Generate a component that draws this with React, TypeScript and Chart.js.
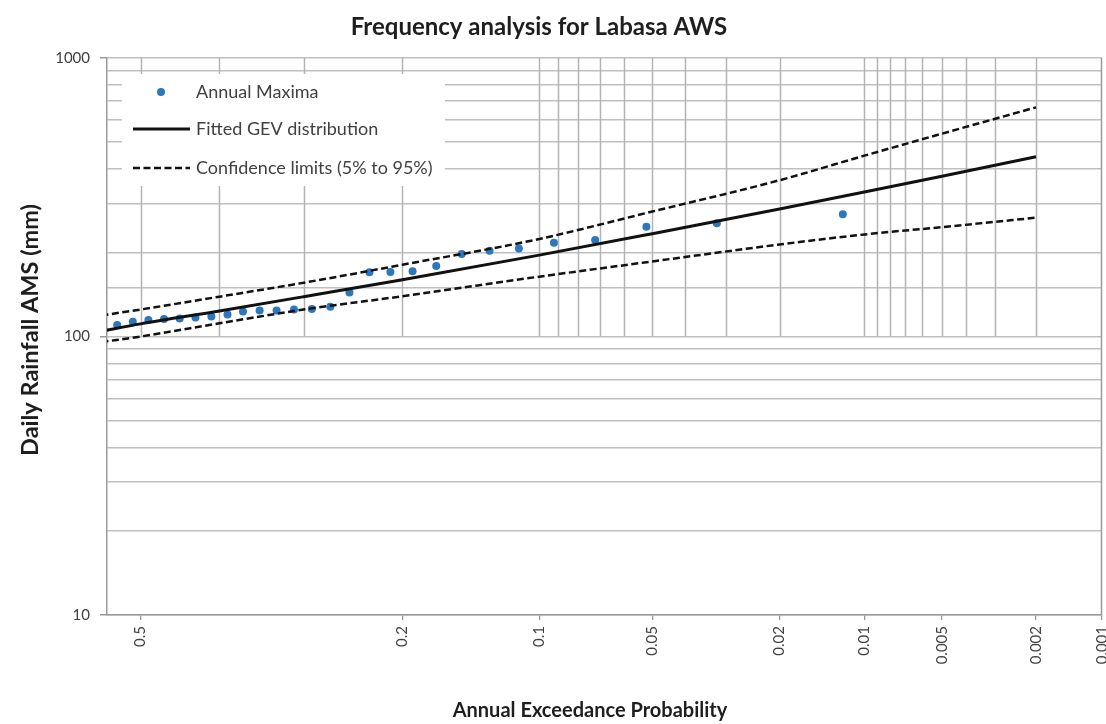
import React, { useEffect, useRef } from "react";
import { Chart, registerables } from "chart.js";

Chart.register(...registerables);

// ---------- data ----------
const TITLE = "Frequency analysis for Labasa AWS";
const X_TITLE = "Annual Exceedance Probability";
const Y_TITLE = "Daily Rainfall AMS (mm)";

// Annual maxima: plotting-position AEP and daily rainfall (mm)
const MAXIMA_AEP = [0.012, 0.032, 0.052, 0.072, 0.092, 0.112, 0.131, 0.151, 0.171, 0.191, 0.211, 0.231, 0.251, 0.271, 0.291, 0.311, 0.331, 0.351, 0.371, 0.390, 0.410, 0.430, 0.450, 0.470, 0.490, 0.510, 0.530];
const MAXIMA_MM = [275, 255, 248, 222, 217, 207, 203, 198, 179, 171.5, 170.5, 170, 144, 128, 125.5, 125, 124, 124, 123, 120, 118, 117, 116, 115.5, 114.5, 113, 110];

// Fitted GEV distribution and confidence limits
const CURVE_AEP = [0.55, 0.5, 0.4, 0.3, 0.2, 0.1, 0.05, 0.02, 0.01, 0.005, 0.002];
const GEV_FIT = [104.5, 111, 123.5, 139, 160, 196, 234, 287, 330, 376, 442];
const CONF_UPPER = [119, 125, 139, 156, 181, 224, 281, 364, 446, 535, 665];
const CONF_LOWER = [95.5, 100, 111.5, 125, 139.5, 164, 186, 214, 232.5, 247, 267];

// Axis ticks / grid
const X_TICK_AEP = [0.5, 0.2, 0.1, 0.05, 0.02, 0.01, 0.005, 0.002, 0.001];
const X_GRID_AEP = [0.5, 0.4, 0.3, 0.2, 0.1, 0.09, 0.08, 0.07, 0.06, 0.05, 0.04, 0.03, 0.02, 0.01, 0.009, 0.008, 0.007, 0.006, 0.005, 0.004, 0.003, 0.002];
const X_MIN_AEP = 0.543;
const X_MAX_AEP = 0.001;
const Y_MIN = 10;
const Y_MAX = 1000;
const Y_LABELS = [10, 100, 1000];

const LEGEND_LABELS = ["Annual Maxima", "Fitted GEV distribution", "Confidence limits (5% to 95%)"];

// ---------- normal probability axis transform ----------
function probit(p: number): number {
  // Acklam's inverse normal CDF
  const a = [-3.969683028665376e1, 2.209460984245205e2, -2.759285104469687e2, 1.38357751867269e2, -3.066479806614716e1, 2.506628277459239];
  const b = [-5.447609879822406e1, 1.615858368580409e2, -1.556989798598866e2, 6.680131188771972e1, -1.328068155288572e1];
  const c = [-7.784894002430293e-3, -3.223964580411365e-1, -2.400758277161838, -2.549732539343734, 4.374664141464968, 2.938163982698783];
  const d = [7.784695709041462e-3, 3.224671290700398e-1, 2.445134137142996, 3.754408661907416];
  const pl = 0.02425;
  if (p < pl) {
    const q = Math.sqrt(-2 * Math.log(p));
    return (((((c[0] * q + c[1]) * q + c[2]) * q + c[3]) * q + c[4]) * q + c[5]) / ((((d[0] * q + d[1]) * q + d[2]) * q + d[3]) * q + 1);
  }
  if (p > 1 - pl) {
    const q = Math.sqrt(-2 * Math.log(1 - p));
    return -(((((c[0] * q + c[1]) * q + c[2]) * q + c[3]) * q + c[4]) * q + c[5]) / ((((d[0] * q + d[1]) * q + d[2]) * q + d[3]) * q + 1);
  }
  const q = p - 0.5;
  const r = q * q;
  return ((((((a[0] * r + a[1]) * r + a[2]) * r + a[3]) * r + a[4]) * r + a[5]) * q) / (((((b[0] * r + b[1]) * r + b[2]) * r + b[3]) * r + b[4]) * r + 1);
}
// z of non-exceedance probability
const zOf = (aep: number) => probit(1 - aep);

const FONT = "Lato, 'Open Sans', sans-serif";
const POINT_COLOR = "#2b78bd";
const GRID_COLOR = "#c0c0c0";
const VGRID_COLOR = "#b3b3b3";
const AXIS_COLOR = "#9a9a9a";
const TEXT_COLOR = "#404040";

const customDraw = {
  id: "customDraw",
  beforeDatasetsDraw(chart: any) {
    const { ctx, chartArea } = chart;
    const xs = chart.scales.x;
    const ys = chart.scales.y;
    ctx.save();
    // vertical grid (upper decade only)
    ctx.strokeStyle = VGRID_COLOR;
    ctx.lineWidth = 1.5;
    const yTop = ys.getPixelForValue(1000);
    const yMid = ys.getPixelForValue(100);
    X_GRID_AEP.forEach((p) => {
      const x = Math.round(xs.getPixelForValue(zOf(p))) + 0.5;
      ctx.beginPath();
      ctx.moveTo(x, yTop);
      ctx.lineTo(x, yMid);
      ctx.stroke();
    });
    // right border
    ctx.strokeStyle = AXIS_COLOR;
    ctx.beginPath();
    ctx.moveTo(chartArea.right - 0.5, chartArea.top);
    ctx.lineTo(chartArea.right - 0.5, chartArea.bottom);
    ctx.stroke();

    // legend box
    const lx = 122, ly = 74, lw = 323, lh = 112;
    ctx.fillStyle = "#ffffff";
    ctx.fillRect(lx, ly, lw, lh);
    ctx.font = `18px ${FONT}`;
    ctx.textBaseline = "middle";
    ctx.textAlign = "left";
    const rows = [92, 129, 168];
    // marker 1: dot
    ctx.fillStyle = POINT_COLOR;
    ctx.beginPath();
    ctx.arc(161, rows[0], 4, 0, Math.PI * 2);
    ctx.fill();
    // marker 2: solid
    ctx.strokeStyle = "#111";
    ctx.lineWidth = 3;
    ctx.setLineDash([]);
    ctx.beginPath();
    ctx.moveTo(133, rows[1]);
    ctx.lineTo(190, rows[1]);
    ctx.stroke();
    // marker 3: dashed
    ctx.lineWidth = 2.5;
    ctx.setLineDash([7, 3.5]);
    ctx.beginPath();
    ctx.moveTo(133, rows[2]);
    ctx.lineTo(190, rows[2]);
    ctx.stroke();
    ctx.setLineDash([]);
    ctx.fillStyle = TEXT_COLOR;
    LEGEND_LABELS.forEach((t, i) => ctx.fillText(t, 196, rows[i]));
    ctx.restore();
  },
  afterDraw(chart: any) {
    const { ctx } = chart;
    ctx.save();
    ctx.fillStyle = "#1e1e1e";
    ctx.textAlign = "center";
    ctx.textBaseline = "middle";
    ctx.font = `bold 24px ${FONT}`;
    ctx.fillText(TITLE, 539, 27);
    ctx.font = `bold 20px ${FONT}`;
    ctx.fillText(X_TITLE, 590, 711);
    ctx.font = `bold 23.5px ${FONT}`;
    ctx.translate(30, 330);
    ctx.rotate(-Math.PI / 2);
    ctx.fillText(Y_TITLE, 0, 0);
    ctx.restore();
  },
};

export default function App() {
  const canvasRef = useRef<HTMLCanvasElement | null>(null);

  useEffect(() => {
    document.body.style.margin = "0";
    const canvas = canvasRef.current;
    if (!canvas) return;

    const maxima = MAXIMA_AEP.map((p, i) => ({ x: zOf(p), y: MAXIMA_MM[i] }));
    const fit = CURVE_AEP.map((p, i) => ({ x: zOf(p), y: GEV_FIT[i] }));
    const upper = CURVE_AEP.map((p, i) => ({ x: zOf(p), y: CONF_UPPER[i] }));
    const lower = CURVE_AEP.map((p, i) => ({ x: zOf(p), y: CONF_LOWER[i] }));

    const lineCommon = {
      type: "line" as const,
      borderColor: "#111111",
      pointRadius: 0,
      cubicInterpolationMode: "monotone" as const,
      fill: false,
      order: 1,
    };

    const chart = new Chart(canvas, {
      type: "scatter",
      data: {
        datasets: [
          {
            label: LEGEND_LABELS[0],
            data: maxima,
            backgroundColor: POINT_COLOR,
            borderColor: POINT_COLOR,
            pointRadius: 4,
            pointBorderWidth: 0,
            order: 2,
          },
          { ...lineCommon, label: LEGEND_LABELS[1], data: fit, borderWidth: 3 },
          { ...lineCommon, label: "Upper", data: upper, borderWidth: 2.5, borderDash: [7, 3.5] },
          { ...lineCommon, label: "Lower", data: lower, borderWidth: 2.5, borderDash: [7, 3.5] },
        ],
      },
      options: {
        responsive: false,
        animation: false,
        layout: { padding: { top: 58, right: 1, left: 0, bottom: 0 } },
        plugins: {
          legend: { display: false },
          title: { display: false },
          tooltip: { enabled: false },
        },
        scales: {
          x: {
            type: "linear",
            min: zOf(X_MIN_AEP),
            max: zOf(X_MAX_AEP),
            afterFit: (s: any) => {
              s.height = 109;
              s.paddingLeft = 0;
              s.paddingRight = 0;
            },
            afterBuildTicks: (s: any) => {
              s.ticks = X_TICK_AEP.map((p) => ({ value: zOf(p) }));
            },
            ticks: {
              autoSkip: false,
              minRotation: 90,
              maxRotation: 90,
              padding: 6,
              color: TEXT_COLOR,
              font: { family: FONT, size: 15 },
              callback: (v: any, i: number) => String(X_TICK_AEP[i]),
            },
            grid: {
              drawOnChartArea: false,
              drawTicks: true,
              tickLength: 5,
              color: AXIS_COLOR,
              lineWidth: 1.3,
            },
            border: { color: AXIS_COLOR, width: 1.5 },
          },
          y: {
            type: "logarithmic",
            min: Y_MIN,
            max: Y_MAX,
            afterFit: (s: any) => {
              s.width = 107;
              s.paddingTop = 0;
              s.paddingBottom = 0;
            },
            ticks: {
              autoSkip: false,
              padding: 10,
              color: TEXT_COLOR,
              font: { family: FONT, size: 15 },
              callback: (v: any) => (Y_LABELS.includes(Number(v)) ? String(v) : ""),
            },
            grid: {
              color: GRID_COLOR,
              lineWidth: 1.5,
              tickLength: 7,
              tickColor: (c: any) => (Y_LABELS.includes(Number(c.tick && c.tick.value)) ? AXIS_COLOR : "rgba(0,0,0,0)"),
            },
            border: { color: AXIS_COLOR, width: 1.5 },
          },
        },
      },
      plugins: [customDraw],
    });

    return () => chart.destroy();
  }, []);

  return (
    <div style={{ width: 1106, height: 724 }}>
      <canvas ref={canvasRef} width={1106} height={724} />
    </div>
  );
}
